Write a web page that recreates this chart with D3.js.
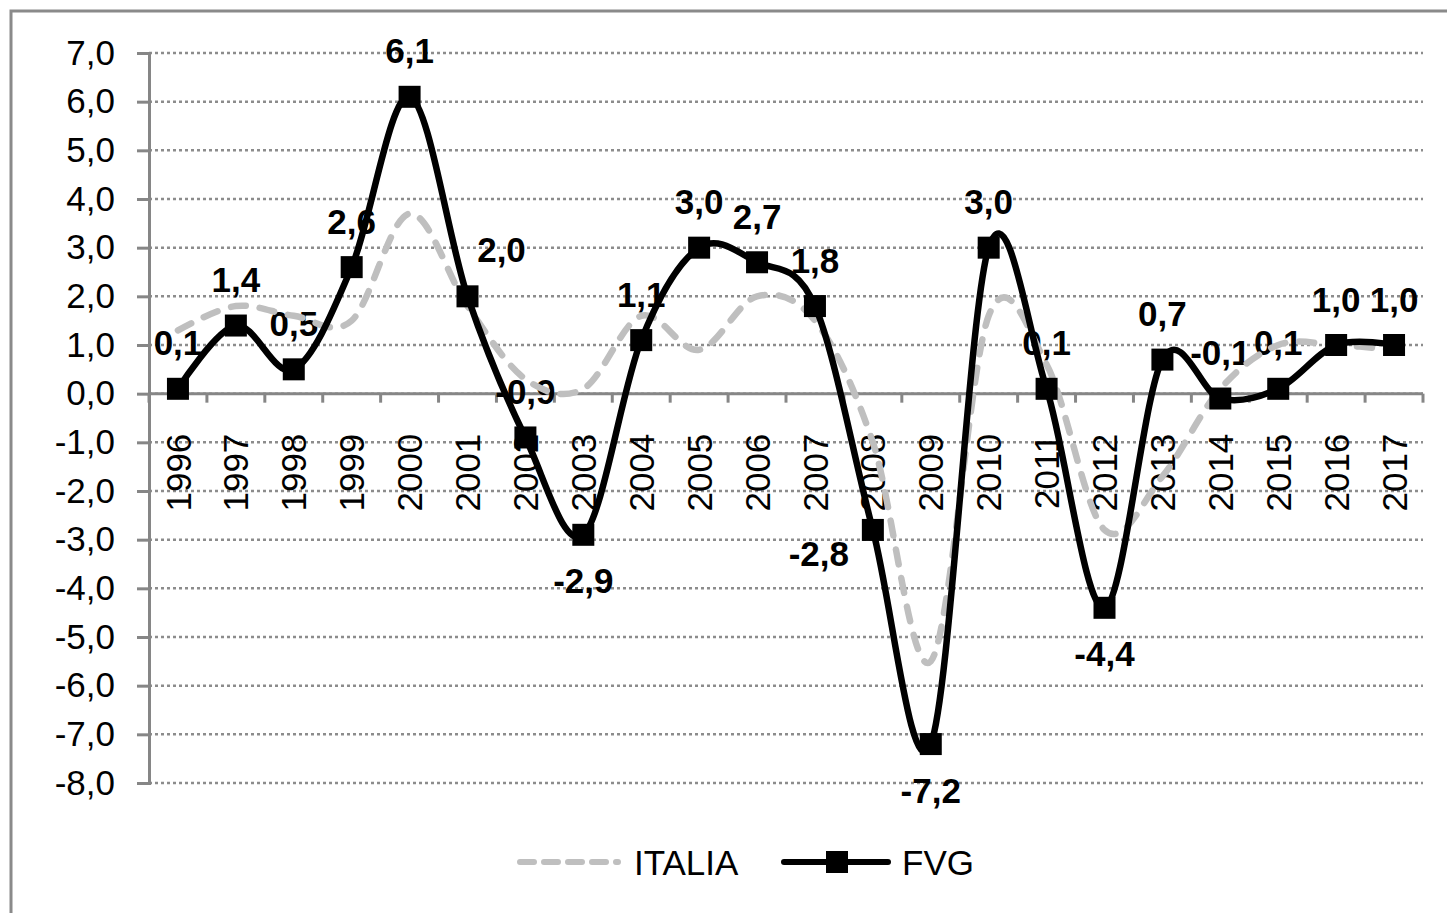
<!DOCTYPE html>
<html>
<head>
<meta charset="utf-8">
<script src="https://cdn.jsdelivr.net/npm/d3@7/dist/d3.min.js"></script>
<style>
  body{margin:0;background:#fff;}
  text{font-family:"Liberation Sans",Arial,sans-serif;}
</style>
</head>
<body>
<svg id="chart"></svg>
<script>
// data
const years = ['1996','1997','1998','1999','2000','2001','2002','2003','2004','2005','2006',
               '2007','2008','2009','2010','2011','2012','2013','2014','2015','2016','2017'];
const italia = [1.3,1.8,1.6,1.5,3.7,1.8,0.3,0.1,1.6,0.9,2.0,1.5,-1.0,-5.5,1.6,0.6,-2.8,-1.7,0.1,1.0,1.0,0.9];
const fvg = [0.1,1.4,0.5,2.6,6.1,2.0,-0.9,-2.9,1.1,3.0,2.7,1.8,-2.8,-7.2,3.0,0.1,-4.4,0.7,-0.1,0.1,1.0,1.0];
const yTicks = [7,6,5,4,3,2,1,0,-1,-2,-3,-4,-5,-6,-7,-8];
const seriesNames = ['ITALIA','FVG'];

// label placement: 'a' above, 'b' below, 'r' right-above, 'l' left-below
const labelPos = ['a','a','a','a','a','r','a','b','a','a','a','a','l','b','a','a','b','a','a','a','a','a'];

const W = 1447, H = 913;
const svg = d3.select('#chart').attr('width',W).attr('height',H);

// outer border
svg.append('rect').attr('x',11).attr('y',11).attr('width',W).attr('height',H)
  .attr('fill','none').attr('stroke','#8a8a8a').attr('stroke-width',3);

const x = d3.scaleBand().domain(years).range([149,1423]);
const y = d3.scaleLinear().domain([-8,7]).range([783,53]);
const cx = d => x(d) + x.bandwidth()/2;
const fmt = v => v.toFixed(1).replace('.',',');

// grid
svg.append('g').selectAll('line').data(yTicks).enter().append('line')
  .attr('x1',149).attr('x2',1423).attr('y1',d=>y(d)).attr('y2',d=>y(d))
  .attr('stroke','#8c8c8c').attr('stroke-width',2.5).attr('stroke-dasharray','3,3');

// y axis
const yAxis = svg.append('g').attr('transform','translate(149,0)')
  .call(d3.axisLeft(y).tickValues(yTicks).tickSize(12).tickPadding(22).tickFormat(fmt));
yAxis.select('.domain').attr('stroke','#868686').attr('stroke-width',3);
yAxis.selectAll('.tick line').attr('stroke','#868686').attr('stroke-width',3);
yAxis.selectAll('.tick text').attr('font-size',35).attr('fill','#000')
  .attr('font-family','"Liberation Sans",Arial,sans-serif');

// x axis at zero
const xg = svg.append('g');
xg.append('line').attr('x1',149).attr('x2',1423).attr('y1',y(0)).attr('y2',y(0))
  .attr('stroke','#868686').attr('stroke-width',3);
const bounds = years.map(d=>x(d)).concat([x(years[years.length-1])+x.bandwidth()]);
xg.selectAll('.xt').data(bounds).enter().append('line')
  .attr('x1',d=>d).attr('x2',d=>d).attr('y1',y(0)).attr('y2',y(0)+9)
  .attr('stroke','#868686').attr('stroke-width',3);
xg.selectAll('.xl').data(years).enter().append('text')
  .attr('transform',d=>'translate('+cx(d)+','+(y(0)+40)+') rotate(-90)')
  .attr('text-anchor','end').attr('dy','0.36em')
  .attr('font-size',35).text(d=>d);

// data labels (drawn under lines)
const off = {a:[0,-46],b:[0,46],r:[34,-47],l:[-54,23]};
svg.append('g').selectAll('text').data(fvg).enter().append('text')
  .attr('x',(d,i)=>cx(years[i])+off[labelPos[i]][0])
  .attr('y',(d,i)=>y(d)+off[labelPos[i]][1])
  .attr('dy','0.36em').attr('text-anchor','middle')
  .attr('font-size',35).attr('font-weight','bold').text(d=>fmt(d));

const line = d3.line().x((d,i)=>cx(years[i])).y(d=>y(d)).curve(d3.curveCardinal.tension(0));

svg.append('path').attr('d',line(italia)).attr('fill','none')
  .attr('stroke','#bfbfbf').attr('stroke-width',6.5).attr('stroke-linecap','round')
  .attr('stroke-dasharray','15,14');

svg.append('path').attr('d',line(fvg)).attr('fill','none')
  .attr('stroke','#000').attr('stroke-width',6.5).attr('stroke-linejoin','round');

const ms = 22;
svg.append('g').selectAll('rect').data(fvg).enter().append('rect')
  .attr('x',(d,i)=>cx(years[i])-ms/2).attr('y',d=>y(d)-ms/2)
  .attr('width',ms).attr('height',ms).attr('fill','#000');

// legend
const lg = svg.append('g').attr('transform','translate(0,862)');
lg.append('line').attr('x1',520).attr('x2',618).attr('y1',0).attr('y2',0)
  .attr('stroke','#bfbfbf').attr('stroke-width',6).attr('stroke-linecap','round')
  .attr('stroke-dasharray','14,10');
lg.append('text').attr('x',634).attr('y',0).attr('dy','0.36em').attr('font-size',35).text(seriesNames[0]);
lg.append('line').attr('x1',784).attr('x2',888).attr('y1',0).attr('y2',0)
  .attr('stroke','#000').attr('stroke-width',6).attr('stroke-linecap','round');
lg.append('rect').attr('x',837-ms/2).attr('y',-ms/2).attr('width',ms).attr('height',ms).attr('fill','#000');
lg.append('text').attr('x',902).attr('y',0).attr('dy','0.36em').attr('font-size',35).text(seriesNames[1]);
</script>
</body>
</html>
